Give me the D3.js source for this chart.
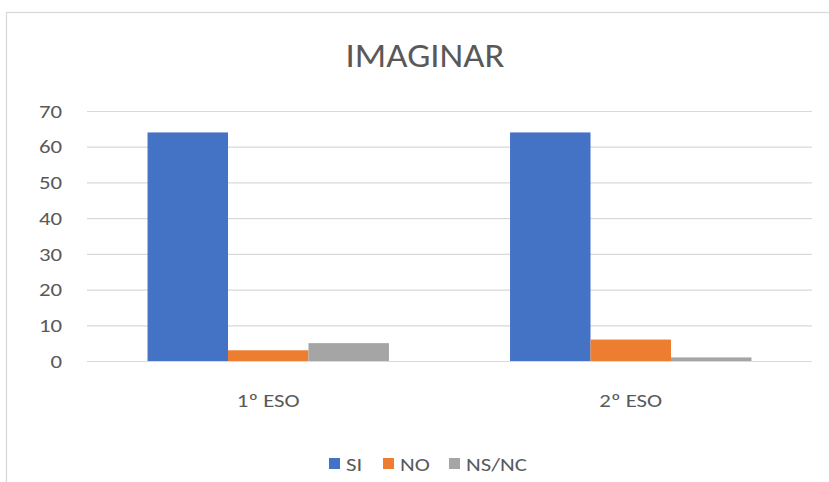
<!DOCTYPE html>
<html>
<head>
<meta charset="utf-8">
<script src="https://d3js.org/d3.v7.min.js"></script>
<style>
  body { margin: 0; background: #fff; }
  text { font-family: Carlito, "Liberation Sans", "Open Sans", sans-serif; fill: #595959; }
</style>
</head>
<body>
<script>
  // data
  var categories = ["1º ESO", "2º ESO"];
  var seriesNames = ["SI", "NO", "NS/NC"];
  var seriesColors = ["#4472C4", "#ED7D31", "#A5A5A5"];
  var siValues = [64, 64];
  var noValues = [3, 6];
  var nsncValues = [5, 1];
  var yTicks = [0, 10, 20, 30, 40, 50, 60, 70];

  var width = 829, height = 482;
  var svg = d3.select("body").append("svg").attr("width", width).attr("height", height);

  // the picture looks stretched sideways, so text is widened a bit
  var stretch = 1.2;
  function place(x, y, s) {
    return "translate(" + x + "," + y + ") scale(" + (s || stretch) + ",1)";
  }

  // chart frame
  svg.append("rect")
    .attr("x", 6.5).attr("y", 12.5)
    .attr("width", 840).attr("height", 490)
    .attr("fill", "none").attr("stroke", "#D9D9D9").attr("stroke-width", 1.3);

  var plotLeft = 87, plotRight = 812, plotTop = 111, plotBottom = 361;

  var x0 = d3.scaleBand().domain(categories).range([plotLeft, plotRight]).paddingInner(0.334).paddingOuter(0.167);
  var x1 = d3.scaleBand().domain(seriesNames).range([0, x0.bandwidth()]);
  var y = d3.scaleLinear().domain([0, 70]).range([plotBottom, plotTop]);

  // gridlines
  svg.append("g").selectAll("line").data(yTicks).enter().append("line")
    .attr("x1", plotLeft).attr("x2", plotRight)
    .attr("y1", d => y(d) + 0.5).attr("y2", d => y(d) + 0.5)
    .attr("stroke", "#D9D9D9").attr("stroke-width", 1.2);

  // y labels
  svg.append("g").selectAll("text").data(yTicks).enter().append("text")
    .attr("transform", d => place(62, y(d)))
    .attr("dy", "0.35em")
    .attr("text-anchor", "end").style("font-size", "19px")
    .text(d => d);

  var rows = categories.map((c, i) => ({
    cat: c,
    vals: [siValues[i], noValues[i], nsncValues[i]]
  }));

  var groups = svg.append("g").selectAll("g").data(rows).enter().append("g")
    .attr("transform", d => "translate(" + x0(d.cat) + ",0)");

  groups.selectAll("rect").data(d => d.vals.map((v, j) => ({ name: seriesNames[j], v: v, c: seriesColors[j] })))
    .enter().append("rect")
    .attr("x", d => x1(d.name)).attr("width", x1.bandwidth())
    .attr("y", d => y(d.v)).attr("height", d => y(0) - y(d.v))
    .attr("fill", d => d.c);

  // baseline
  svg.append("line").attr("x1", plotLeft).attr("x2", plotRight)
    .attr("y1", plotBottom + 0.5).attr("y2", plotBottom + 0.5)
    .attr("stroke", "#D9D9D9").attr("stroke-width", 1.2);

  // x labels
  svg.append("g").selectAll("text").data(categories).enter().append("text")
    .attr("transform", d => place(x0(d) + x0.bandwidth() / 2, 407))
    .attr("text-anchor", "middle").style("font-size", "19px")
    .text(d => d);

  // title
  svg.append("text")
    .attr("transform", place(425, 67, 1.08))
    .attr("text-anchor", "middle").style("font-size", "34px")
    .text("IMAGINAR");

  // legend
  var legendX = [329, 383, 449];
  var legend = svg.append("g").selectAll("g").data(seriesNames).enter().append("g")
    .attr("transform", (d, i) => "translate(" + legendX[i] + ",458)");
  legend.append("rect").attr("width", 11).attr("height", 11).attr("fill", (d, i) => seriesColors[i]);
  legend.append("text")
    .attr("transform", place(17, 6))
    .attr("dy", "0.35em")
    .style("font-size", "19px").text(d => d);
</script>
</body>
</html>
